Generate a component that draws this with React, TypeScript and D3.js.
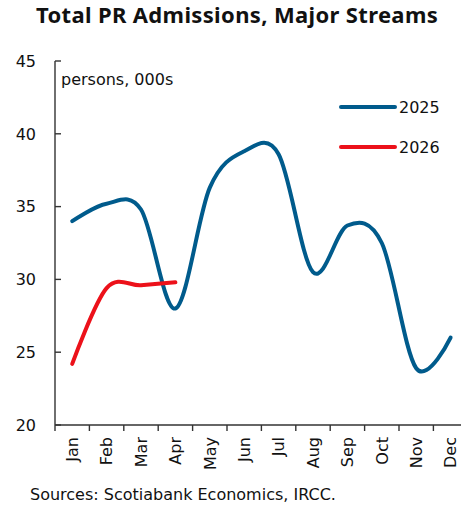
import React from "react";
import * as d3 from "d3";

const months = ["Jan", "Feb", "Mar", "Apr", "May", "Jun", "Jul", "Aug", "Sep", "Oct", "Nov", "Dec"];
const values2025 = [34.0, 35.2, 34.8, 28.0, 36.3, 38.8, 38.6, 30.5, 33.7, 32.5, 23.9, 26.0];
const months2026 = ["Jan", "Feb", "Mar", "Apr"];
const values2026 = [24.2, 29.4, 29.6, 29.8];
const yTicks = [20, 25, 30, 35, 40, 45];

const W = 461;
const H = 506;
const LEFT = 55;
const BAND = 34.4;
const TOP = 61;
const BOTTOM = 425;
const BLUE = "#005b8c";
const RED = "#ec111a";
const FONT = "'DejaVu Sans', sans-serif";

export default function App() {
  const x = d3.scaleBand<string>().domain(months).range([LEFT, LEFT + BAND * months.length]).padding(0);
  const y = d3.scaleLinear().domain([20, 45]).range([BOTTOM, TOP]);
  const bw = x.bandwidth();
  const cx = (m: string) => (x(m) as number) + bw / 2;

  const line = d3
    .line<[string, number]>()
    .x((d) => cx(d[0]))
    .y((d) => y(d[1]))
    .curve(d3.curveCardinal.tension(0));

  const d2025 = line(months.map((m, i) => [m, values2025[i]] as [string, number])) || "";
  const d2026 = line(months2026.map((m, i) => [m, values2026[i]] as [string, number])) || "";

  const boundaries = months.map((m) => x(m) as number).concat([LEFT + BAND * months.length]);

  return (
    <svg width={W} height={H} style={{ position: "absolute", left: 0, top: 0, background: "#fff" }}>
      <text x={237} y={23} textAnchor="middle" fontFamily="'Noto Sans', sans-serif" fontWeight="bold" fontSize={22} letterSpacing={0.35} fill="#111">
        Total PR Admissions, Major Streams
      </text>

      {/* y axis */}
      <line x1={LEFT} x2={LEFT} y1={TOP} y2={BOTTOM} stroke="#333" strokeWidth={1.4} />
      {yTicks.map((t) => (
        <g key={t}>
          <line x1={LEFT} x2={LEFT + 6} y1={y(t)} y2={y(t)} stroke="#333" strokeWidth={1.4} />
          <text x={36} y={y(t)} dy="0.36em" textAnchor="end" fontFamily={FONT} fontSize={16} fill="#111">
            {t}
          </text>
        </g>
      ))}

      {/* x axis */}
      <line x1={LEFT} x2={LEFT + BAND * months.length} y1={BOTTOM} y2={BOTTOM} stroke="#333" strokeWidth={1.4} />
      {boundaries.map((b, i) => (
        <line key={i} x1={b} x2={b} y1={BOTTOM} y2={BOTTOM + 6} stroke="#333" strokeWidth={1.4} />
      ))}
      {months.map((m) => (
        <text
          key={m}
          transform={`translate(${cx(m)},${437}) rotate(-90)`}
          dy="0.36em"
          textAnchor="end"
          fontFamily={FONT}
          fontSize={16}
          fill="#111"
        >
          {m}
        </text>
      ))}

      <text x={61} y={85} fontFamily={FONT} fontSize={16} fill="#111">
        persons, 000s
      </text>

      {/* lines */}
      <path d={d2025} fill="none" stroke={BLUE} strokeWidth={4} strokeLinecap="round" strokeLinejoin="round" />
      <path d={d2026} fill="none" stroke={RED} strokeWidth={4} strokeLinecap="round" strokeLinejoin="round" />

      {/* legend */}
      <line x1={341} x2={395} y1={107} y2={107} stroke={BLUE} strokeWidth={4} strokeLinecap="round" />
      <text x={399} y={107} dy="0.36em" fontFamily={FONT} fontSize={16} fill="#111">2025</text>
      <line x1={341} x2={395} y1={147} y2={147} stroke={RED} strokeWidth={4} strokeLinecap="round" />
      <text x={399} y={147} dy="0.36em" fontFamily={FONT} fontSize={16} fill="#111">2026</text>

      <text x={30} y={500} fontFamily={FONT} fontSize={16} fill="#111">
        Sources: Scotiabank Economics, IRCC.
      </text>
    </svg>
  );
}
